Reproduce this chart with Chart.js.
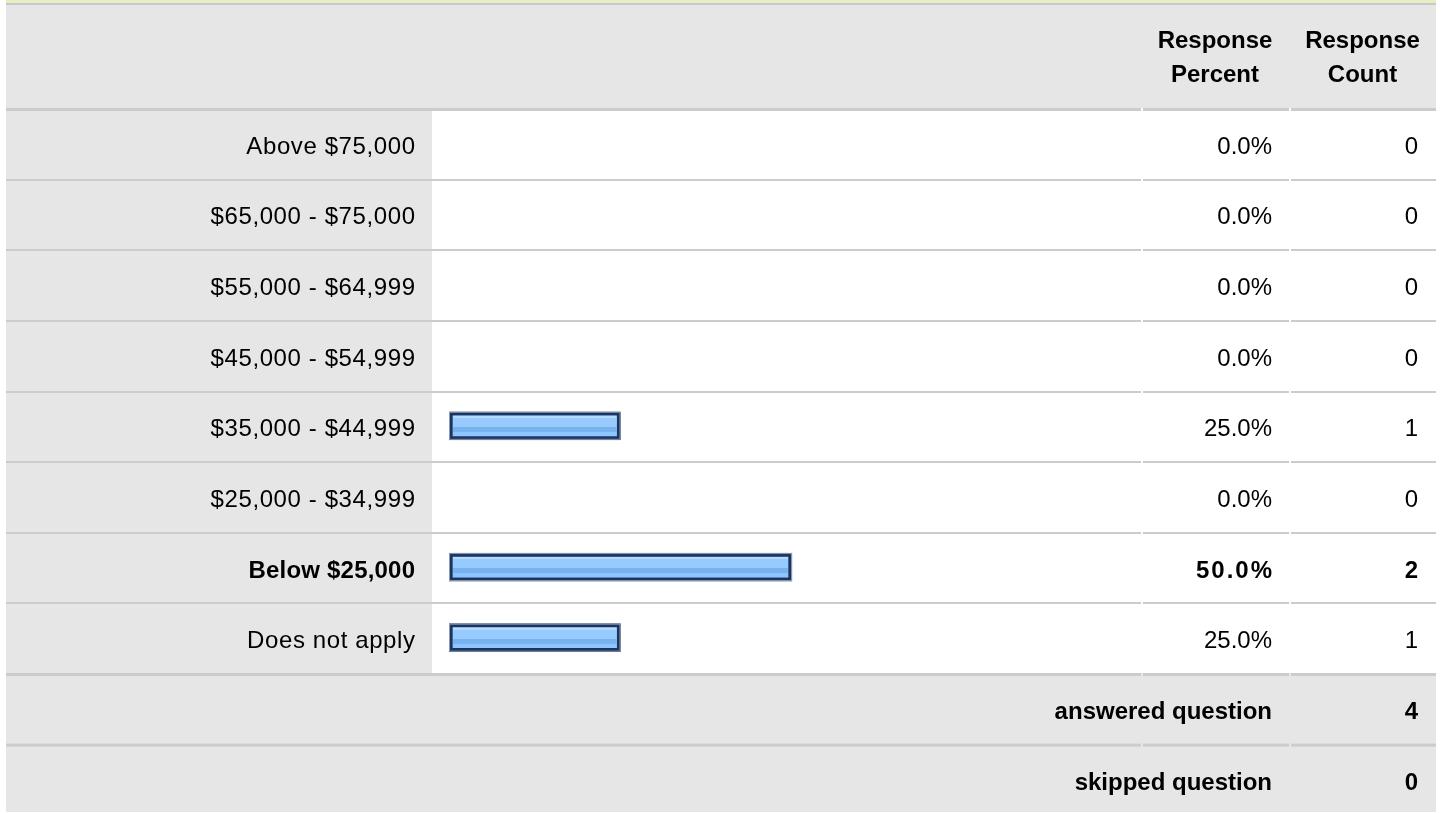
<!DOCTYPE html>
<html>
<head>
<meta charset="utf-8">
<title>Income</title>
<script src="https://cdn.jsdelivr.net/npm/chart.js@4/dist/chart.umd.min.js"></script>
<style>
  html, body { margin: 0; padding: 0; background: #fff; }
  #wrap { width: 1442px; height: 813px; }
</style>
</head>
<body>
<div id="wrap"><canvas id="incomeChart" width="1442" height="813"></canvas></div>
<script>
    const categories = [
        'Above $75,000',
        '$65,000 - $75,000',
        '$55,000 - $64,999',
        '$45,000 - $54,999',
        '$35,000 - $44,999',
        '$25,000 - $34,999',
        'Below $25,000',
        'Does not apply'
    ];
    const responsePercent = [0, 0, 0, 0, 25, 0, 50, 25];
    const responseCount = [0, 0, 0, 0, 1, 0, 2, 1];
    const headerPercent = ['Response', 'Percent'];
    const headerCount = ['Response', 'Count'];
    const summaryLabels = ['answered question', 'skipped question'];
    const summaryCounts = [4, 0];

    // table columns (px)
    const COL = {
        left: 6, right: 1436,
        labelRight: 432,
        barRight: 1141,
        pctLeft: 1143, pctRight: 1289,
        cntLeft: 1291
    };
    const GREY = '#e6e6e6';
    const RULE = '#cccccc';
    const FONT = '"Liberation Sans", Arial, sans-serif';
    const maxCount = Math.max(...responseCount);

    function hRule(ctx, y, h) {
        ctx.fillStyle = RULE;
        ctx.fillRect(COL.left, y, COL.barRight - COL.left, h);
        ctx.fillRect(COL.pctLeft, y, COL.pctRight - COL.pctLeft, h);
        ctx.fillRect(COL.cntLeft, y, COL.right - COL.cntLeft, h);
    }

    function text(ctx, str, x, y, align, bold, spacing) {
        ctx.font = (bold ? 'bold ' : '') + '24px ' + FONT;
        ctx.textAlign = align;
        ctx.textBaseline = 'alphabetic';
        ctx.letterSpacing = spacing ? spacing + 'px' : '0px';
        ctx.fillStyle = '#000';
        // trailing letter spacing would push right-aligned text left
        ctx.fillText(str, align === 'right' && spacing ? x + spacing : x, y);
        ctx.letterSpacing = '0px';
    }

    const tablePlugin = {
        id: 'surveyTable',
        beforeDraw(chart) {
            const ctx = chart.ctx;
            const area = chart.chartArea;
            const yScale = chart.scales.y;
            const band = (area.bottom - area.top) / categories.length;
            ctx.save();
            ctx.fillStyle = '#fff';
            ctx.fillRect(0, 0, chart.width, chart.height);

            // top strip and header
            ctx.fillStyle = '#e9edc3';
            ctx.fillRect(COL.left, 0, COL.right - COL.left, 3);
            ctx.fillStyle = '#c9c9c9';
            ctx.fillRect(COL.left, 3, COL.right - COL.left, 2);
            ctx.fillStyle = GREY;
            ctx.fillRect(COL.left, 5, COL.right - COL.left, area.top - 5);

            // answer label column and summary rows
            ctx.fillRect(COL.left, area.top, COL.labelRight - COL.left, area.bottom - area.top);
            ctx.fillRect(COL.left, area.bottom, COL.right - COL.left, 812 - area.bottom);

            // row rules
            hRule(ctx, area.top, 3);
            categories.forEach((c, i) => {
                if (i === 0) return;
                const y = yScale.getPixelForValue(i) - band / 2;
                hRule(ctx, Math.round(y), 2);
            });
            hRule(ctx, area.bottom, 3);
            hRule(ctx, area.bottom + band, 3);
            ctx.restore();
        },
        afterDatasetsDraw(chart) {
            // striped glossy fill inside each bar
            const ctx = chart.ctx;
            const meta = chart.getDatasetMeta(0);
            ctx.save();
            meta.data.forEach(bar => {
                const p = bar.getProps(['x', 'y', 'base', 'height'], true);
                const left = Math.min(p.base, p.x);
                const w = Math.abs(p.x - p.base);
                if (w < 1) return;
                const top = p.y - p.height / 2;
                const b = 4;
                const ix = left + b, iy = top + b, iw = w - 2 * b, ih = p.height - 2 * b;
                const g = ctx.createLinearGradient(0, iy, 0, iy + ih);
                g.addColorStop(0, '#b5daff');
                g.addColorStop(0.1, '#b5daff');
                g.addColorStop(0.1, '#97cbff');
                g.addColorStop(0.55, '#97cbff');
                g.addColorStop(0.55, '#78b2ef');
                g.addColorStop(0.8, '#78b2ef');
                g.addColorStop(0.8, '#8cc5ff');
                g.addColorStop(1, '#8cc5ff');
                ctx.fillStyle = g;
                ctx.fillRect(ix, iy, iw, ih);
                ctx.strokeStyle = '#8a9ab2';
                ctx.lineWidth = 1;
                ctx.strokeRect(left + 0.5, top + 0.5, w - 1, p.height - 1);
            });
            ctx.restore();
        },
        afterDraw(chart) {
            const ctx = chart.ctx;
            const area = chart.chartArea;
            const yScale = chart.scales.y;
            const band = (area.bottom - area.top) / categories.length;
            const pctCenter = (COL.pctLeft + COL.pctRight) / 2 - 1;
            const cntCenter = (COL.cntLeft + COL.right) / 2 - 1;
            ctx.save();

            headerPercent.forEach((s, i) => text(ctx, s, pctCenter, 48 + i * 33.5, 'center', true));
            headerCount.forEach((s, i) => text(ctx, s, cntCenter, 48 + i * 33.5, 'center', true));

            categories.forEach((c, i) => {
                const y = yScale.getPixelForValue(i) + 10.5;
                const bold = responseCount[i] === maxCount;
                text(ctx, c, COL.labelRight - 17, y, 'right', bold, bold ? 0.2 : 0.6);
                text(ctx, responsePercent[i].toFixed(1) + '%', COL.pctRight - 17, y, 'right', bold, bold ? 2 : 0);
                text(ctx, String(responseCount[i]), COL.right - 18, y, 'right', bold);
            });

            summaryLabels.forEach((s, i) => {
                const y = area.bottom + band * i + band / 2 + 11;
                text(ctx, s, COL.pctRight - 17, y, 'right', true);
                text(ctx, String(summaryCounts[i]), COL.right - 18, y, 'right', true);
            });
            ctx.restore();
        }
    };

    const ctx = document.getElementById('incomeChart').getContext('2d');
    new Chart(ctx, {
        type: 'bar',
        data: {
            labels: categories,
            datasets: [{
                label: 'Response Percent',
                data: responsePercent,
                backgroundColor: '#97cbff',
                borderColor: '#1c355f',
                borderWidth: 4,
                borderSkipped: false,
                barThickness: 28
            }]
        },
        options: {
            indexAxis: 'y',
            responsive: false,
            animation: false,
            devicePixelRatio: 1,
            layout: { padding: { left: 449, right: 307, top: 108, bottom: 140 } },
            plugins: {
                legend: { display: false },
                tooltip: { enabled: false },
                title: { display: false }
            },
            scales: {
                x: { display: false, min: 0, max: 100 },
                y: { display: false }
            }
        },
        plugins: [tablePlugin]
    });
</script>
</body>
</html>
